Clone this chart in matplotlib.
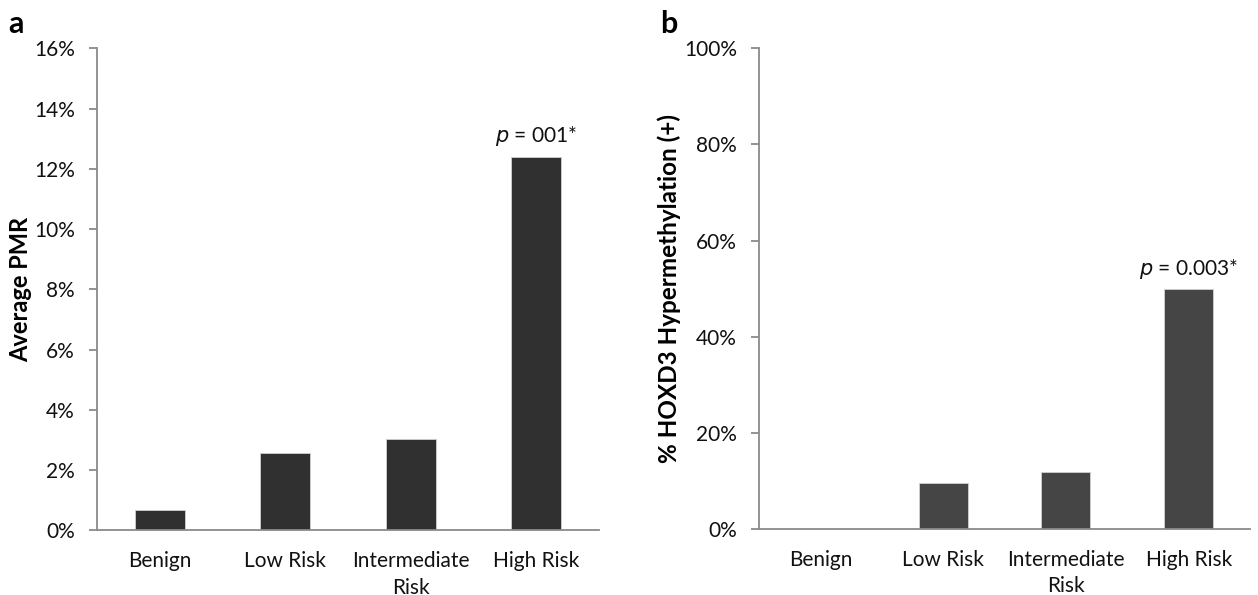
import matplotlib
matplotlib.use("Agg")
import matplotlib.pyplot as plt
from matplotlib.ticker import FuncFormatter

categories = ["Benign", "Low Risk", "Intermediate\nRisk", "High Risk"]
pmr_values = [0.67, 2.56, 3.02, 12.39]          # % average PMR
hyper_values = [0.0, 9.6, 11.9, 50.0]           # % HOXD3 hypermethylation
left_ticks = [0, 2, 4, 6, 8, 10, 12, 14, 16]
right_ticks = [0, 20, 40, 60, 80, 100]

plt.rcParams['font.family'] = ['Lato', 'DejaVu Sans']
fig = plt.figure(figsize=(12.58, 5.95), dpi=100)

axis_col = '#8a8a8a'
text_col = '#111111'

def style(ax, ticks, ymax, ylabel, ylsize, ylx, vals, color, ptext, pval_y):
    x = [i + 0.5 for i in range(len(categories))]
    ax.bar(x, vals, width=0.4, color=color, edgecolor='#d0d0d0', linewidth=0.6)
    ax.set_xlim(0, len(categories))
    ax.set_ylim(0, ymax)
    ax.set_yticks(ticks)
    ax.yaxis.set_major_formatter(FuncFormatter(lambda v, p: f"{int(v)}%"))
    ax.set_xticks(x)
    ax.set_xticklabels(categories, linespacing=1.4)
    for s in ['top', 'right']:
        ax.spines[s].set_visible(False)
    for s in ['left', 'bottom']:
        ax.spines[s].set_color(axis_col)
        ax.spines[s].set_linewidth(1.3)
    ax.tick_params(axis='y', direction='out', length=6, width=1.3, color=axis_col,
                   labelsize=15, labelcolor=text_col, pad=10)
    ax.tick_params(axis='x', length=0, labelsize=15, labelcolor=text_col, pad=15)
    for lbl in ax.get_xticklabels():
        lbl.set_verticalalignment('top')
    ax.set_ylabel(ylabel, fontsize=ylsize, fontweight='bold', color='black')
    ax.yaxis.label.set_verticalalignment('center')
    ax.yaxis.set_label_coords(ylx, 0.5)
    ax.text(x[-1], pval_y, ptext, ha='center', va='bottom', fontsize=15, color=text_col)

ax1 = fig.add_axes([97/1258, 1-530.3/595, 502/1258, 482/595])
style(ax1, left_ticks, 16, "Average PMR", 17, (21-97)/502, pmr_values, '#303030',
      r"$\it{p}$ = 001*", pmr_values[-1] + 0.3)

ax2 = fig.add_axes([759/1258, 1-529/595, 491/1258, 480.7/595])
style(ax2, right_ticks, 100, "% HOXD3 Hypermethylation (+)", 17.5, (669-759)/491,
      hyper_values, '#454545', r"$\it{p}$ = 0.003*", hyper_values[-1] + 1.6)

fig.text(8/1258, 1-24/595, "a", fontsize=22, fontweight='bold', va='center', ha='left')
fig.text(660/1258, 1-24/595, "b", fontsize=22, fontweight='bold', va='center', ha='left')

fig.savefig("out.png", dpi=100)
